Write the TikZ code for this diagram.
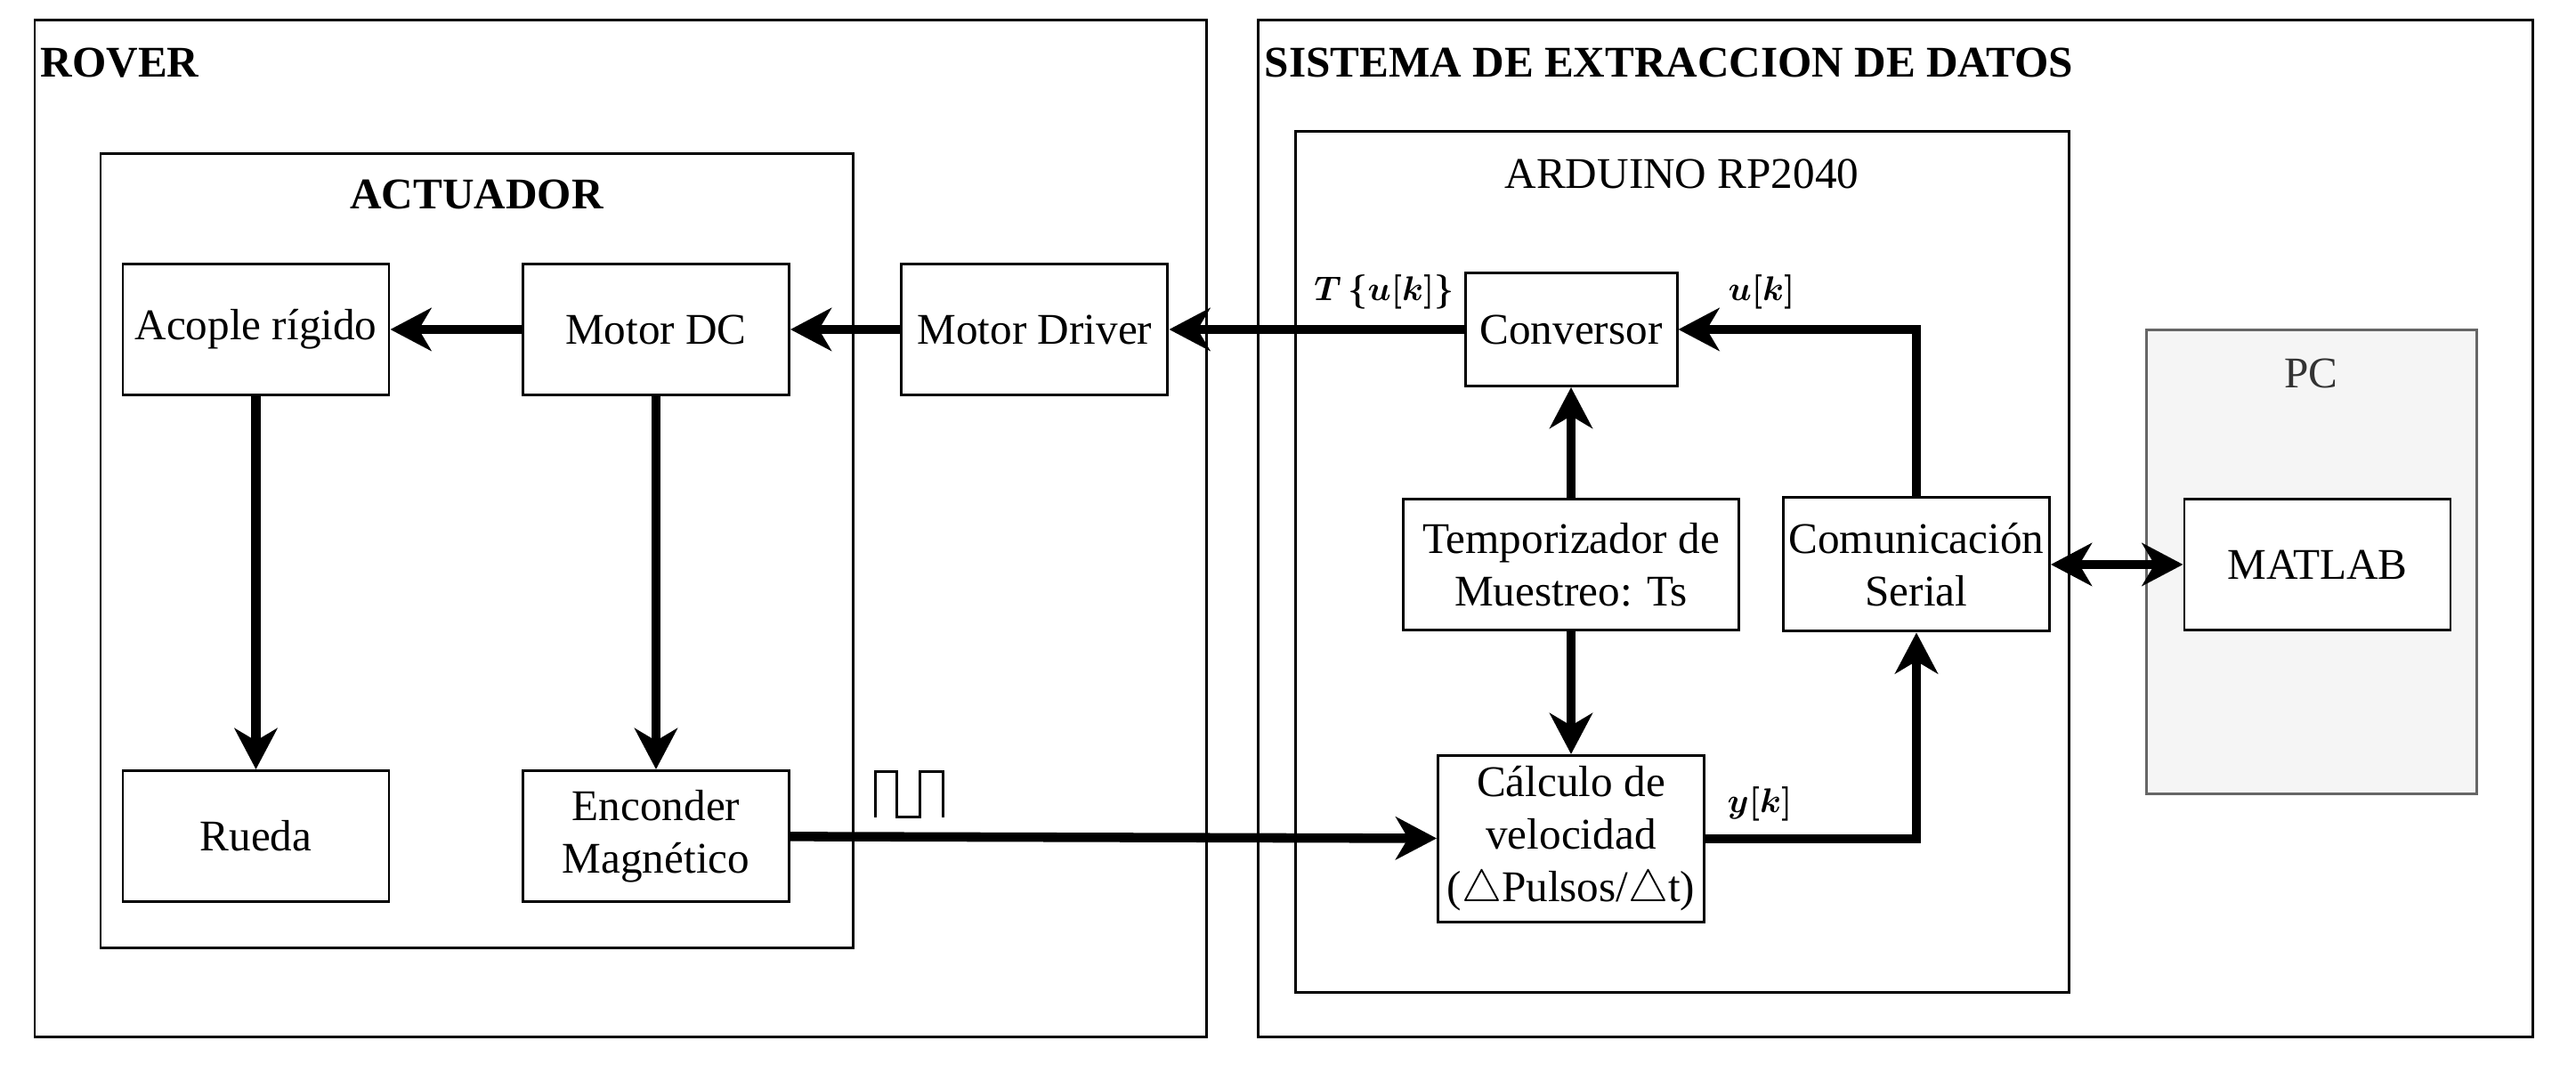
\documentclass[tikz,border=0pt]{standalone}
\usepackage{amsmath,amssymb}
\usepackage{fontspec}
\setmainfont{Liberation Serif}
\usepackage{xcolor}
\usepackage{tikz}
\usetikzlibrary{arrows.meta,positioning}

\definecolor{pcfill}{HTML}{F5F5F5}
\definecolor{pcline}{HTML}{666666}
\definecolor{pctext}{HTML}{333333}

\begin{document}
\begin{tikzpicture}[
    font=\fontsize{14}{16.8}\selectfont,
    blk/.style={draw, line width=0.85pt, minimum width=2.99cm, minimum height=1.47cm,
                inner sep=1pt, align=center, fill=white},
    groupbox/.style={draw, line width=0.85pt},
    grptitle/.style={font=\fontsize{14}{16.8}\selectfont\bfseries, inner sep=0pt},
    sig/.style={font=\fontsize{10.5}{12}\selectfont, inner sep=0pt},
    arr/.style={-{Stealth[length=4.6mm,width=4.8mm,inset=1.4mm]}, line width=3pt},
    dblarr/.style={{Stealth[length=4.6mm,width=4.8mm,inset=1.4mm]}-{Stealth[length=4.6mm,width=4.8mm,inset=1.4mm]},
                   line width=3pt}
]
\useasboundingbox (0,0) rectangle (28.94,12.05);

%% Groups
\draw[groupbox] (0.39,0.40) rectangle (13.55,11.82);
\draw[groupbox] (14.13,0.40) rectangle (28.45,11.82);
\draw[groupbox] (1.13,1.40) rectangle (9.58,10.32);
\draw[groupbox] (14.55,0.90) rectangle (23.24,10.57);
\draw[groupbox, draw=pcline, fill=pcfill] (24.11,3.13) rectangle (27.82,8.34);

\node[grptitle, anchor=base west] (rovertxt) at (0.45,11.18) {ROVER};
\node[grptitle, anchor=base west] (sistxt) at (14.20,11.18) {SISTEMA DE EXTRACCION DE DATOS};
\node[grptitle, anchor=base] (acttxt) at (5.355,9.70) {ACTUADOR};
\node[inner sep=0pt, anchor=base] (ardtxt) at (18.895,9.93) {ARDUINO RP2040};
\node[inner sep=0pt, anchor=base, text=pctext] (pctxt) at (25.965,7.69) {PC};

%% Actuador
\node[blk] (acople) at (2.875,8.35) {Acople rígido};
\node[blk, right=1.475cm of acople] (motordc) {Motor DC};
\node[blk, right=1.235cm of motordc] (driver) {Motor Driver};
\node[blk, below=4.19cm of acople] (rueda) {Rueda};
\node[blk, below=4.19cm of motordc] (encoder) {Enconder\\Magnético};

%% Arduino
\node[blk, minimum width=2.38cm, minimum height=1.27cm] (conversor) at (17.65,8.35) {Conversor};
\node[blk, minimum width=3.77cm, below=1.24cm of conversor] (timer) {Temporizador de\\Muestreo: Ts};
\node[blk, minimum height=1.87cm, below=1.38cm of timer] (calc)
  {Cálculo de\\velocidad\\($\triangle$Pulsos/$\triangle$t)};
\node[blk, minimum height=1.50cm, right=0.47cm of timer] (serial) {Comunicación\\Serial};

%% PC
\node[blk, right=1.485cm of serial] (matlab) {MATLAB};

%% Connections
\draw[arr] (motordc) -- (acople);
\draw[arr] (driver) -- (motordc);
\draw[arr] (conversor) -- (driver);
\draw[arr] (serial.north) |- (conversor.east);
\draw[arr] (timer) -- (conversor);
\draw[arr] (timer) -- (calc);
\draw[arr] (acople) -- (rueda);
\draw[arr] (motordc) -- (encoder);
\draw[arr] (encoder) -- (calc);
\draw[arr] (calc.east) -| (serial.south);
\draw[dblarr] (serial) -- (matlab);

%% Signals
\node[sig] (tuk) at (15.55,8.77) {$\boldsymbol{T\left\{u[k]\right\}}$};
\node[sig] (uk) at (19.79,8.77) {$\boldsymbol{u[k]}$};
\node[sig] (yk) at (19.77,3.02) {$\boldsymbol{y[k]}$};
\draw[line width=0.85pt] (9.83,2.87) |- (10.07,3.38) |- (10.33,2.87) |- (10.59,3.38) -- (10.59,2.87);

\end{tikzpicture}
\end{document}
